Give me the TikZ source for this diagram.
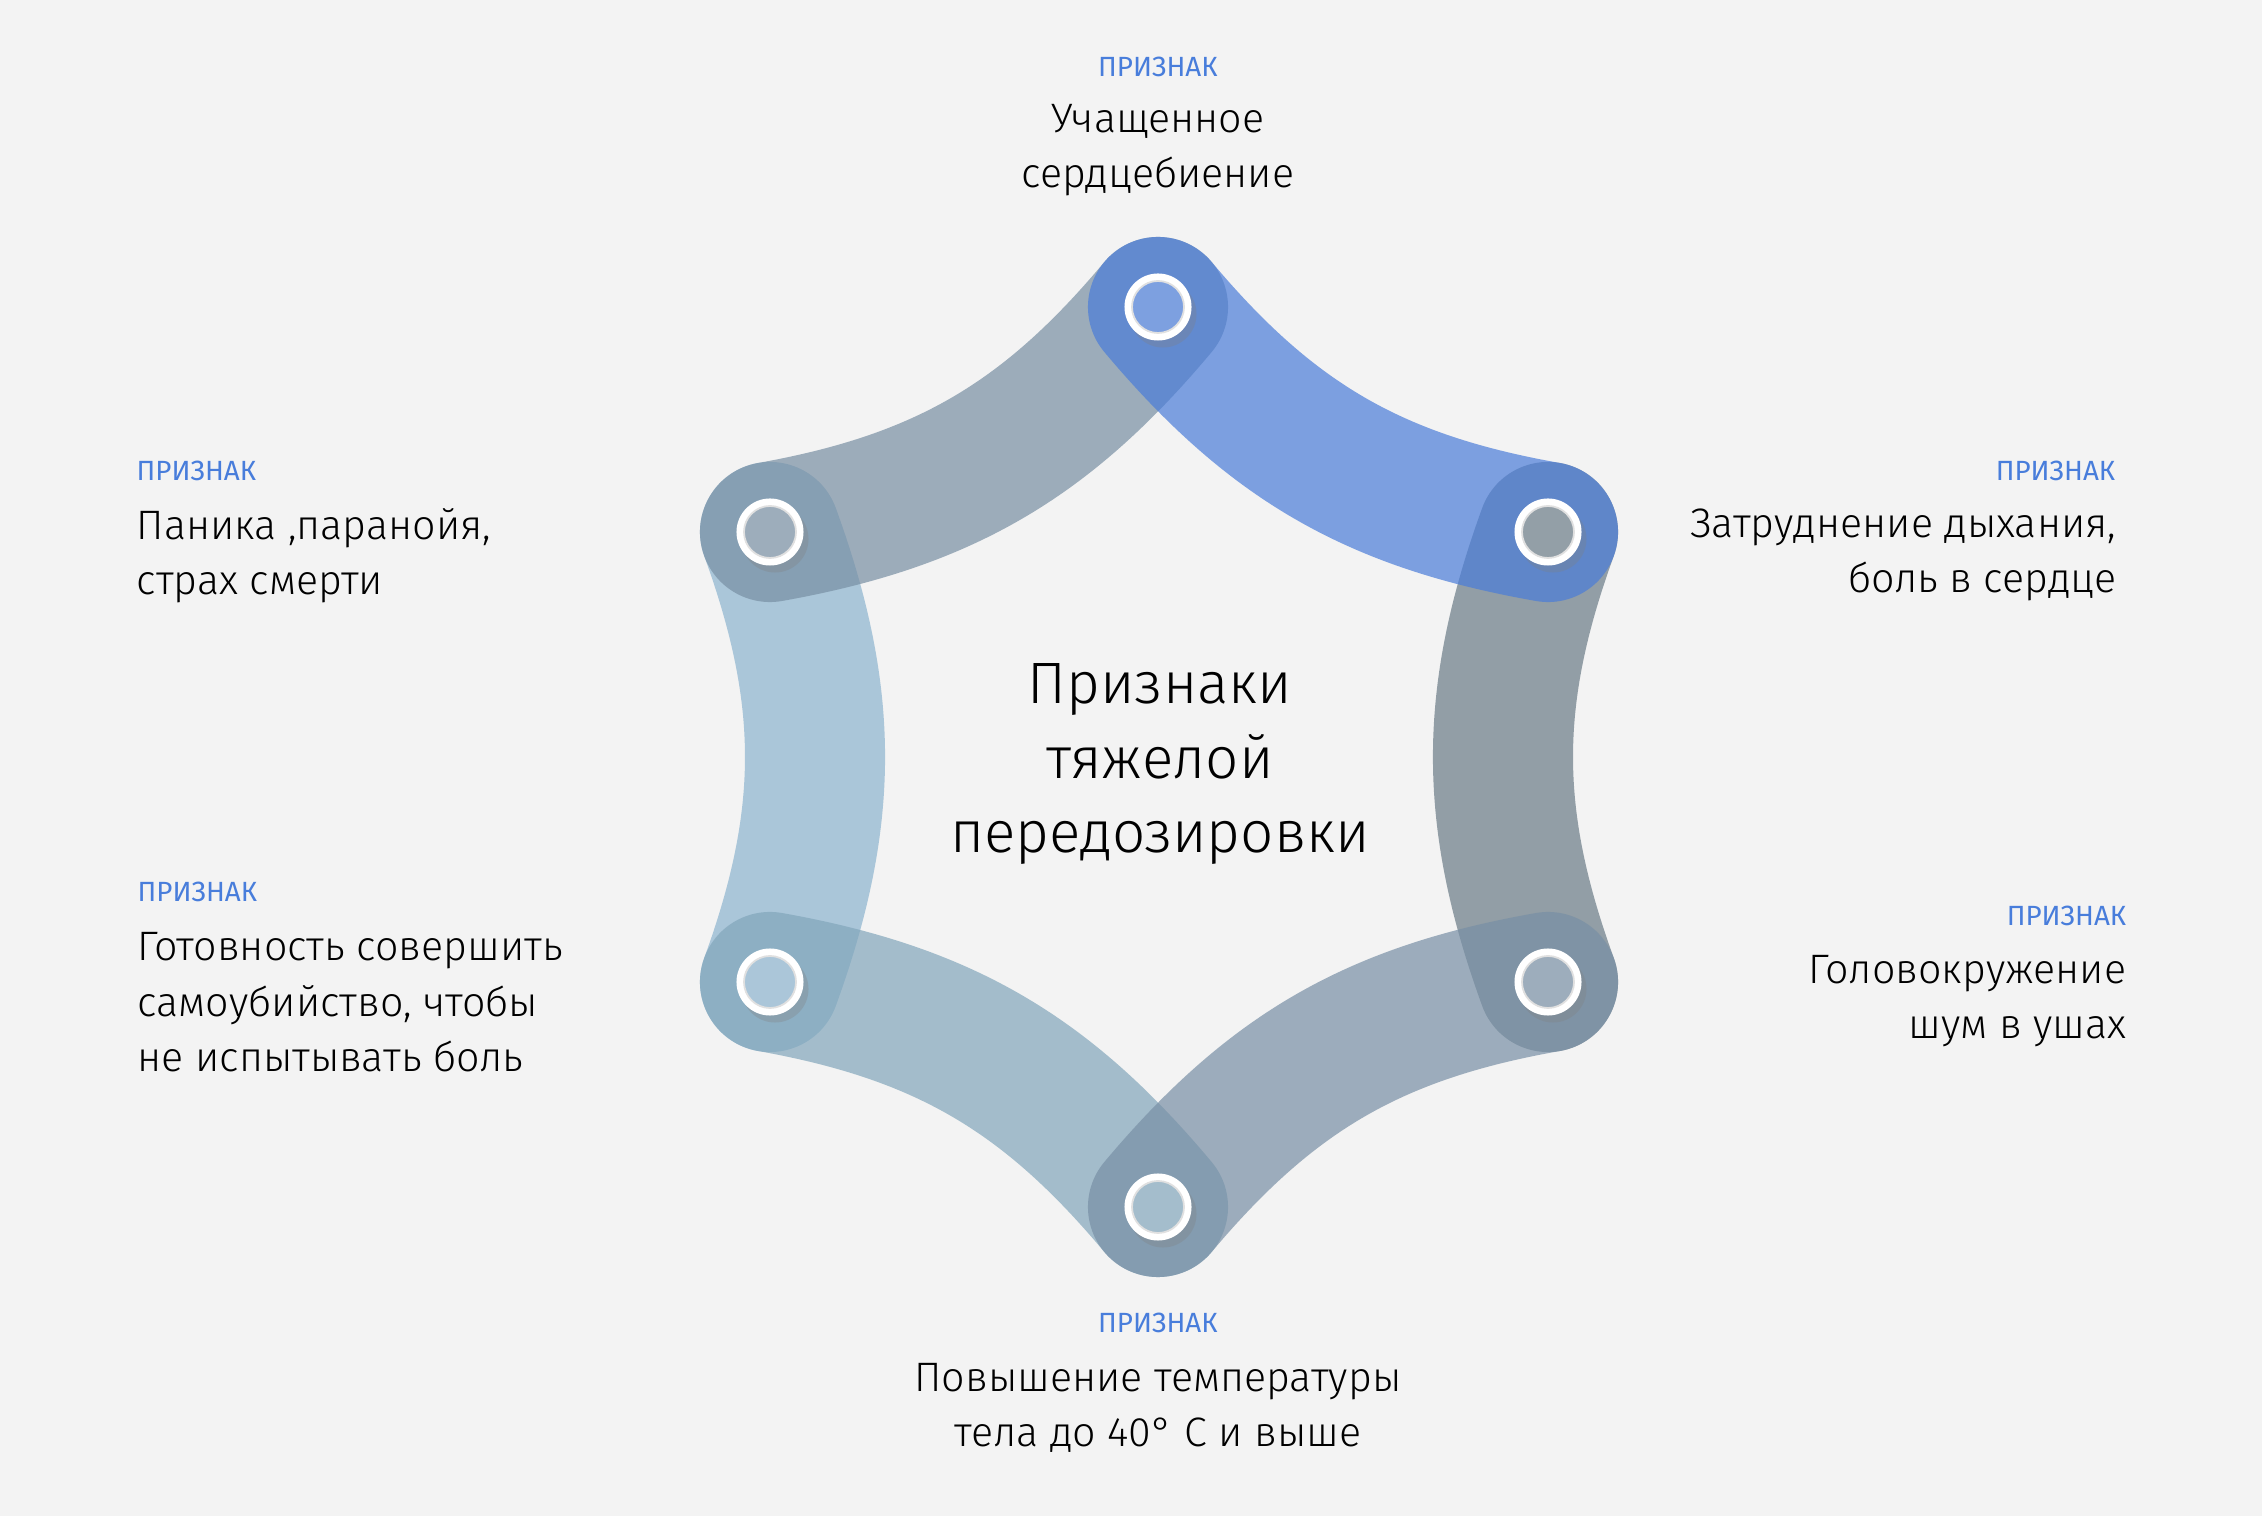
\documentclass[tikz,border=0pt]{standalone}
\usepackage{fontspec}
\setmainfont{Fira Sans}[UprightFont=* Light]
\newfontfamily\tagfont{Fira Sans}
\usetikzlibrary{shadows}

\definecolor{bgc}{RGB}{243,243,243}
\definecolor{tagblue}{RGB}{72,125,219}
% band colours, drawn at 70%
\definecolor{cA}{RGB}{74,124,216}
\definecolor{cB}{RGB}{106,123,134}
\definecolor{cC}{RGB}{120,143,165}
\definecolor{cD}{RGB}{130,166,187}
\definecolor{cE}{RGB}{140,179,206}
\definecolor{cF}{RGB}{120,143,163}
% dot colours
\definecolor{dA}{RGB}{125,160,224}
\definecolor{dB}{RGB}{147,159,167}
\definecolor{dC}{RGB}{157,173,188}
\definecolor{dD}{RGB}{164,189,204}
\definecolor{dE}{RGB}{171,198,217}
\definecolor{dF}{RGB}{157,173,187}

\tikzset{
  band/.style={line width=1.4cm, line cap=round, draw opacity=0.7},
  ring/.style={circle, fill=white, minimum size=0.67cm, inner sep=0pt,
    drop shadow={shadow xshift=0.5mm, shadow yshift=-0.7mm, opacity=0.3}},
  dot/.style={circle, minimum size=0.52cm, inner sep=0pt, draw=black!12, line width=0.5pt},
  tag/.style={text=tagblue, font=\tagfont\fontsize{7.9}{9.6}\selectfont, inner sep=0pt},
  lbl/.style={font=\fontsize{11.7}{15.9}\selectfont, inner sep=0pt},
  title/.style={font=\fontsize{16.6}{21.2}\selectfont, inner sep=0pt, align=center},
}

\begin{document}
\begin{tikzpicture}[x=0.01cm, y=-0.01cm]
	\fill[bgc] (0,0) rectangle (2262,1516);
	\useasboundingbox (0,0) rectangle (2262,1516);
	\coordinate (top) at (1158,307);
	\coordinate (ur) at (1548,532);
	\coordinate (lr) at (1548,982);
	\coordinate (bot) at (1158,1207);
	\coordinate (ll) at (770,982);
	\coordinate (ul) at (770,532);
	% bands
	\draw[band, cE] (ll) to[bend right=20] (ul);
	\draw[band, cD] (bot) to[bend right=20] (ll);
	\draw[band, cB] (ur) to[bend right=20] (lr);
	\draw[band, cC] (lr) to[bend right=20] (bot);
	\draw[band, cF] (ul) to[bend right=20] (top);
	\draw[band, cA] (top) to[bend right=20] (ur);
	% rings
	\foreach \p/\c in {top/dA, ur/dB, lr/dC, bot/dD, ll/dE, ul/dF}{
		\node[ring] (r-\p) at (\p) {};
		\node[dot, fill=\c] (d-\p) at (\p) {};
	}
	% centre (base = last line)
	\node[title, anchor=base] (title) at (1160,853) {Признаки\\тяжелой\\передозировки};
	% labels
	\node[tag, anchor=base] (t-top) at (1158,77) {ПРИЗНАК};
	\node[lbl, anchor=base, align=center] (l-top) at (1158,188) {Учащенное\\сердцебиение};
	\node[tag, anchor=base east] (t-ur) at (2116,481) {ПРИЗНАК};
	\node[lbl, anchor=base east, align=right] (l-ur) at (2117,593) {Затруднение дыхания,\\боль в сердце};
	\node[tag, anchor=base east] (t-lr) at (2127,926) {ПРИЗНАК};
	\node[lbl, anchor=base east, align=right] (l-lr) at (2127,1039) {Головокружение\\шум в ушах};
	\node[tag, anchor=base] (t-bot) at (1158,1333) {ПРИЗНАК};
	\node[lbl, anchor=base, align=center] (l-bot) at (1158,1447) {Повышение температуры\\тела до 40° С и выше};
	\node[tag, anchor=base west] (t-ll) at (137,902) {ПРИЗНАК};
	\node[lbl, anchor=base west, align=left] (l-ll) at (137,1072) {Готовность совершить\\самоубийство, чтобы\\не испытывать боль};
	\node[tag, anchor=base west] (t-ul) at (136,481) {ПРИЗНАК};
	\node[lbl, anchor=base west, align=left] (l-ul) at (136,595) {Паника ,паранойя,\\страх смерти};
\end{tikzpicture}
\end{document}
